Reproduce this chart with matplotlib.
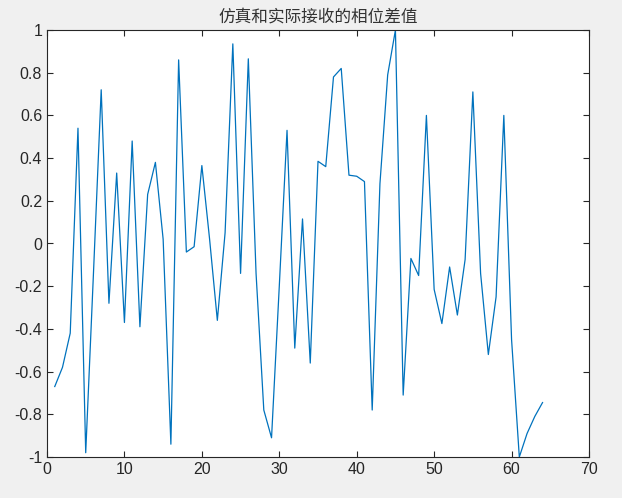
import numpy as np
import matplotlib.pyplot as plt

plt.rcParams['font.family'] = ['Liberation Sans', 'Noto Sans CJK SC', 'DejaVu Sans']
plt.rcParams['axes.unicode_minus'] = False

# 相位差值
idx = np.arange(1, 65)
phase_diff = [-0.67, -0.58, -0.42, 0.54, -0.98, -0.14, 0.72, -0.28, 0.33, -0.37,
              0.48, -0.39, 0.23, 0.38, 0.02, -0.94, 0.86, -0.04, -0.015, 0.365,
              0.02, -0.36, 0.05, 0.935, -0.14, 0.865, -0.14, -0.78, -0.91, -0.2,
              0.53, -0.49, 0.115, -0.56, 0.385, 0.36, 0.78, 0.82, 0.32, 0.315,
              0.29, -0.78, 0.28, 0.79, 1.0, -0.71, -0.07, -0.15, 0.6, -0.215,
              -0.375, -0.11, -0.335, -0.075, 0.71, -0.14, -0.52, -0.25, 0.6, -0.45,
              -1.0, -0.89, -0.81, -0.745]

x_ticks = np.arange(0, 71, 10)
y_ticks = [-1, -0.8, -0.6, -0.4, -0.2, 0, 0.2, 0.4, 0.6, 0.8, 1]

fig = plt.figure(figsize=(6.22, 4.98), dpi=100, facecolor='#f0f0f0')
ax = fig.add_axes([47/622, 1-457/498, (589-47)/622, (457-30)/498])
ax.plot(idx, phase_diff, color='#0072BD', lw=0.9)

ax.set_xlim(0, 70)
ax.set_ylim(-1, 1)
ax.set_xticks(x_ticks)
ax.set_yticks(y_ticks)
ax.set_yticklabels(['%g' % v for v in y_ticks])
ax.tick_params(direction='in', top=True, right=True, length=4, width=0.8,
               colors='#262626', labelsize=11.5, labelcolor='#262626')
for s in ax.spines.values():
    s.set_color('#262626')
    s.set_linewidth(0.8)

ax.set_title('仿真和实际接收的相位差值', family=['Noto Sans CJK SC'],
             fontsize=12, color='#333333', pad=6)

fig.savefig('out.png', facecolor=fig.get_facecolor())
